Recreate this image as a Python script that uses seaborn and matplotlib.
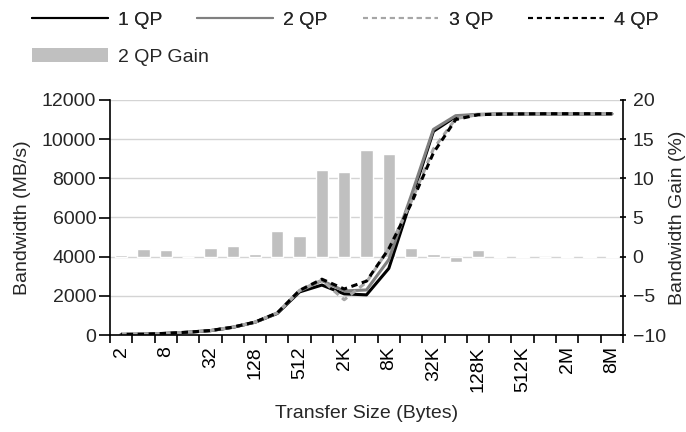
import numpy as np
import pandas as pd
import matplotlib
matplotlib.use("Agg")
import matplotlib.pyplot as plt
from matplotlib.lines import Line2D
from matplotlib.patches import Patch
import seaborn as sns

categories = ["2", "4", "8", "16", "32", "64", "128", "256", "512", "1K", "2K", "4K",
              "8K", "16K", "32K", "64K", "128K", "256K", "512K", "1M", "2M", "4M", "8M"]
qp1 = [30, 40, 80, 140, 220, 390, 650, 1100, 2200, 2550, 2100, 2050,
       3400, 6900, 10400, 11150, 11250, 11280, 11290, 11290, 11290, 11290, 11290]
qp2 = [30, 40, 85, 140, 225, 395, 655, 1120, 2250, 2780, 2250, 2300,
       3850, 7100, 10500, 11200, 11270, 11290, 11300, 11300, 11300, 11300, 11300]
qp3 = [35, 40, 85, 145, 230, 400, 660, 1130, 2280, 2800, 1800, 2700,
       4400, 6800, 9500, 11050, 11250, 11280, 11290, 11300, 11300, 11300, 11300]
qp4 = [35, 40, 85, 145, 230, 400, 660, 1130, 2280, 2850, 2350, 2750,
       4400, 6700, 9300, 11000, 11250, 11280, 11290, 11300, 11300, 11300, 11300]
gain = [0.2, 1.0, 0.9, -0.1, 1.05, 1.3, 0.4, 3.3, 2.6, 11.0, 10.8, 13.6,
        13.1, 1.1, 0.4, -0.65, 0.9, 0.1, 0.1, -0.1, 0.05, 0.05, 0.1]
label_every = 2

sns.set_theme(style="white")
plt.rcParams["font.family"] = ["Liberation Sans", "DejaVu Sans"]

pos = np.arange(len(categories))
df = pd.DataFrame({"pos": pos, "qp1": qp1, "qp2": qp2, "qp3": qp3, "qp4": qp4, "gain": gain})

FS = 14
fig = plt.figure(figsize=(6.86, 4.32), dpi=100)
ax = fig.add_axes([110/686, 1-335/432, (623-110)/686, (335-100)/432])
ax2 = ax.twinx()
ax.set_zorder(ax2.get_zorder() + 1)
ax.patch.set_visible(False)

bar_color = "#c0c0c0"
sns.barplot(data=df, x="pos", y="gain", ax=ax2, color=bar_color, saturation=1,
            width=0.55, native_scale=True, zorder=2)

lw = 2.2
dash = (2.1, 1.5)
sns.lineplot(data=df, x="pos", y="qp1", ax=ax, color="black", lw=lw)
sns.lineplot(data=df, x="pos", y="qp2", ax=ax, color="#808080", lw=lw)
sns.lineplot(data=df, x="pos", y="qp3", ax=ax, color="#a6a6a6", lw=lw,
             linestyle=(0, dash))
sns.lineplot(data=df, x="pos", y="qp4", ax=ax, color="black", lw=lw,
             linestyle=(1.8, dash))

ax.set_ylim(0, 12000)
ax.set_yticks(np.arange(0, 12001, 2000))
ax2.set_ylim(-10, 20)
ax2.set_yticks(np.arange(-10, 21, 5))
ax2.grid(axis="y", color="#d4d4d4", lw=1, zorder=0)
ax2.set_axisbelow(True)
ax.grid(False)
ax.set_xlim(-0.5, len(categories) - 0.5)

ax.set_xticks(pos[::label_every])
ax.set_xticklabels(categories[::label_every], rotation=90, ha="center", va="top")
ax.set_xticks(np.arange(-0.5, len(categories), 1), minor=True)
ax.tick_params(axis="x", which="major", length=0, pad=8, labelsize=FS, colors="black")
ax.tick_params(axis="x", which="minor", direction="out", length=6, width=1.2, color="black", bottom=True)
ax.tick_params(axis="y", direction="out", length=8, width=1.2, color="black", labelsize=FS, pad=2, left=True)
ax2.tick_params(axis="y", direction="inout", length=4, width=1.2, color="black", labelsize=FS, pad=5, right=True)

for a in (ax, ax2):
    a.spines["top"].set_visible(False)
    for s in ("left", "right", "bottom"):
        a.spines[s].set_color("black")
        a.spines[s].set_linewidth(1.2)
ax.spines["right"].set_visible(False)
ax2.spines["left"].set_visible(False)
ax2.spines["bottom"].set_visible(False)

ax.set_xlabel("Transfer Size (Bytes)", fontsize=FS, labelpad=9.5)
ax.set_ylabel("Bandwidth (MB/s)", fontsize=FS, labelpad=8)
ax2.set_ylabel("Bandwidth Gain (%)", fontsize=FS, labelpad=2)

h = [Line2D([], [], color="black", lw=1.5),
     Line2D([], [], color="#808080", lw=1.5),
     Line2D([], [], color="#a6a6a6", lw=1.5, linestyle=(0, (2.4, 1.9))),
     Line2D([], [], color="black", lw=1.5, linestyle=(0, (2.4, 1.9)))]
leg1 = fig.legend(handles=h, labels=["1 QP", "2 QP", "3 QP", "4 QP"], loc="upper left",
                  bbox_to_anchor=(32/686, 1-11.5/432), ncol=4, frameon=False, fontsize=FS,
                  handlelength=3.9, handletextpad=0.52, columnspacing=1.8,
                  borderpad=0, borderaxespad=0)
leg2 = fig.legend(handles=[Patch(facecolor=bar_color, edgecolor="none")], labels=["2 QP Gain"],
                  loc="upper left", bbox_to_anchor=(32/686, 1-48.5/432), frameon=False,
                  fontsize=FS, handlelength=3.9, handleheight=0.7, handletextpad=0.52,
                  borderpad=0, borderaxespad=0)
fig.add_artist(leg1)

fig.savefig("out.png", dpi=100)
